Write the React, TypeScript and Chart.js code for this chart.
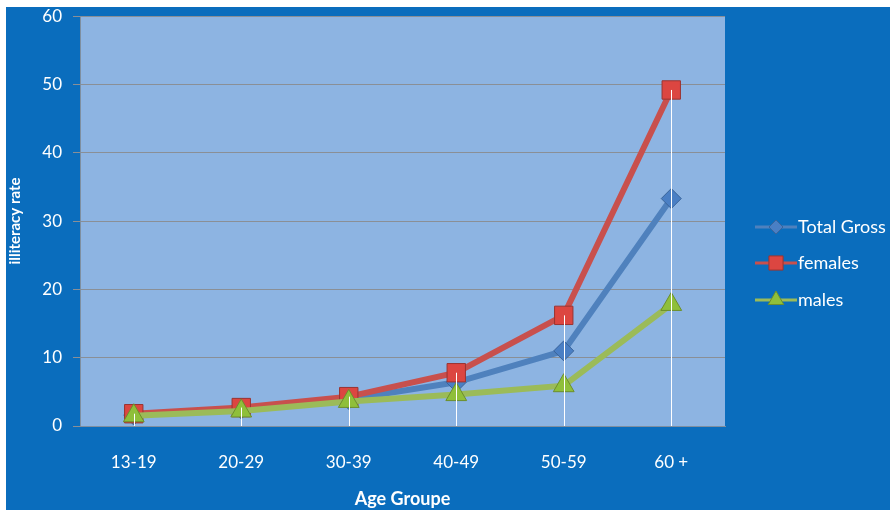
import React, { useEffect, useRef } from "react";
import { Chart, registerables } from "chart.js";

Chart.register(...registerables);

const categories = ["13-19", "20-29", "30-39", "40-49", "50-59", "60 +"];
const totalGross = [1.6, 2.5, 3.9, 6.4, 11.0, 33.3];
const females = [1.8, 2.7, 4.3, 7.8, 16.2, 49.2];
const males = [1.5, 2.2, 3.6, 4.6, 5.9, 17.8];
const seriesNames = ["Total Gross", "females", "males"];
const yTicks = [0, 10, 20, 30, 40, 50, 60];

const FONT = "Lato, 'Open Sans', sans-serif";
const OUTER = "#0a6dbd";
const PLOT = "#8db4e2";
const BLUE = "#4f81bd";
const RED = "#c8504d";
const GREEN = "#9bbb59";

function drawMarker(ctx: CanvasRenderingContext2D, style: string, x: number, y: number, r: number, fill: string, stroke: string) {
  ctx.save();
  ctx.fillStyle = fill;
  ctx.strokeStyle = stroke;
  ctx.lineWidth = 1;
  ctx.beginPath();
  if (style === "rectRot") {
    ctx.moveTo(x, y - r);
    ctx.lineTo(x + r, y);
    ctx.lineTo(x, y + r);
    ctx.lineTo(x - r, y);
    ctx.closePath();
  } else if (style === "rect") {
    const s = r * Math.SQRT1_2;
    ctx.rect(x - s, y - s, 2 * s, 2 * s);
  } else {
    const h = r;
    ctx.moveTo(x, y - h);
    ctx.lineTo(x + h * 0.866, y + h * 0.5);
    ctx.lineTo(x - h * 0.866, y + h * 0.5);
    ctx.closePath();
  }
  ctx.fill();
  ctx.stroke();
  ctx.restore();
}

const plotBg = {
  id: "plotBg",
  beforeDraw(chart: any) {
    const { ctx, chartArea } = chart;
    ctx.save();
    ctx.fillStyle = OUTER;
    ctx.fillRect(0, 0, chart.width, chart.height);
    ctx.fillStyle = PLOT;
    ctx.fillRect(chartArea.left, chartArea.top, chartArea.right - chartArea.left, chartArea.bottom - chartArea.top);
    ctx.restore();
  },
};

const dropLines = {
  id: "dropLines",
  afterDatasetsDraw(chart: any) {
    const { ctx, chartArea, scales } = chart;
    ctx.save();
    ctx.strokeStyle = "#ffffff";
    ctx.lineWidth = 1;
    categories.forEach((_, i) => {
      const vals = chart.data.datasets.map((d: any) => d.data[i] as number);
      const top = Math.max(...vals);
      const x = Math.round(scales.x.getPixelForValue(i)) + 0.5;
      ctx.beginPath();
      ctx.moveTo(x, scales.y.getPixelForValue(top));
      ctx.lineTo(x, chartArea.bottom);
      ctx.stroke();
    });
    ctx.restore();
  },
};

const customLegend = {
  id: "customLegend",
  afterDraw(chart: any) {
    const { ctx, chartArea } = chart;
    const x0 = chartArea.right + 30;
    const rows = [232, 268, 305];
    ctx.save();
    chart.data.datasets.forEach((d: any, i: number) => {
      const y = rows[i];
      ctx.strokeStyle = d.borderColor;
      ctx.lineWidth = 3;
      ctx.beginPath();
      ctx.moveTo(x0, y);
      ctx.lineTo(x0 + 42, y);
      ctx.stroke();
      const r = d.pointStyle === "rect" ? 10 : d.pointStyle === "rectRot" ? 7 : 9;
      drawMarker(ctx, d.pointStyle, x0 + 21, y, r, d.pointBackgroundColor, d.pointBorderColor);
      ctx.fillStyle = "#ffffff";
      ctx.font = `18px ${FONT}`;
      ctx.textBaseline = "middle";
      ctx.textAlign = "left";
      ctx.fillText(d.label, x0 + 43, y);
    });
    ctx.restore();
  },
};

export default function App() {
  const ref = useRef<HTMLCanvasElement>(null);
  useEffect(() => {
    if (!ref.current) return;
    const chart = new Chart(ref.current, {
      type: "line",
      data: {
        labels: categories,
        datasets: [
          {
            label: seriesNames[0],
            data: totalGross,
            borderColor: BLUE,
            backgroundColor: BLUE,
            pointBackgroundColor: "#4a7fc4",
            pointBorderColor: "#3a6499",
            pointBorderWidth: 1,
            pointStyle: "rectRot",
            pointRadius: 10,
            borderWidth: 6,
            order: 2,
          },
          {
            label: seriesNames[1],
            data: females,
            borderColor: RED,
            backgroundColor: RED,
            pointBackgroundColor: "#dc4641",
            pointBorderColor: "#9a3431",
            pointBorderWidth: 1,
            pointStyle: "rect",
            pointRadius: 13,
            borderWidth: 6,
            order: 1,
          },
          {
            label: seriesNames[2],
            data: males,
            borderColor: GREEN,
            backgroundColor: GREEN,
            pointBackgroundColor: "#8fbf3a",
            pointBorderColor: "#6c8f2c",
            pointBorderWidth: 1,
            pointStyle: "triangle",
            pointRadius: 12,
            borderWidth: 6,
            order: 0,
          },
        ] as any,
      },
      options: {
        responsive: false,
        animation: false,
        layout: { padding: { top: 8, right: 165, left: 0, bottom: 0 } },
        plugins: { legend: { display: false }, tooltip: { enabled: false } },
        elements: { line: { tension: 0 } },
        scales: {
          x: {
            offset: true,
            grid: { display: false, drawTicks: false },
            border: { display: true, color: "#7f8fa0", width: 1 },
            ticks: { color: "#ffffff", font: { family: FONT, size: 17 }, padding: 26 },
            title: {
              display: true,
              text: "Age Groupe",
              color: "#ffffff",
              font: { family: FONT, size: 18, weight: "bold" },
              padding: { top: 0, bottom: 0 },
            },
            afterFit(scale: any) {
              scale.height = 84;
            },
          },
          y: {
            min: 0,
            max: 60,
            afterBuildTicks(scale: any) {
              scale.ticks = yTicks.map((v) => ({ value: v }));
            },
            grid: { color: "#8a8f96", lineWidth: 1, drawTicks: true, tickLength: 7 },
            border: { display: true, color: "#7f8fa0", width: 1 },
            ticks: { color: "#ffffff", font: { family: FONT, size: 17 }, padding: 11 },
            title: {
              display: true,
              text: "illiteracy rate",
              color: "#ffffff",
              font: { family: FONT, size: 15, weight: "bold" },
              padding: { top: 0, bottom: 0 },
            },
            afterFit(scale: any) {
              scale.width = 74;
            },
          },
        },
      },
      plugins: [plotBg, dropLines, customLegend],
    });
    return () => chart.destroy();
  }, []);
  return (
    <div style={{ position: "fixed", left: 6, top: 7, width: 884, height: 503, background: OUTER, overflow: "hidden" }}>
      <canvas ref={ref} width={884} height={515} style={{ display: "block", marginTop: -12 }} />
    </div>
  );
}
